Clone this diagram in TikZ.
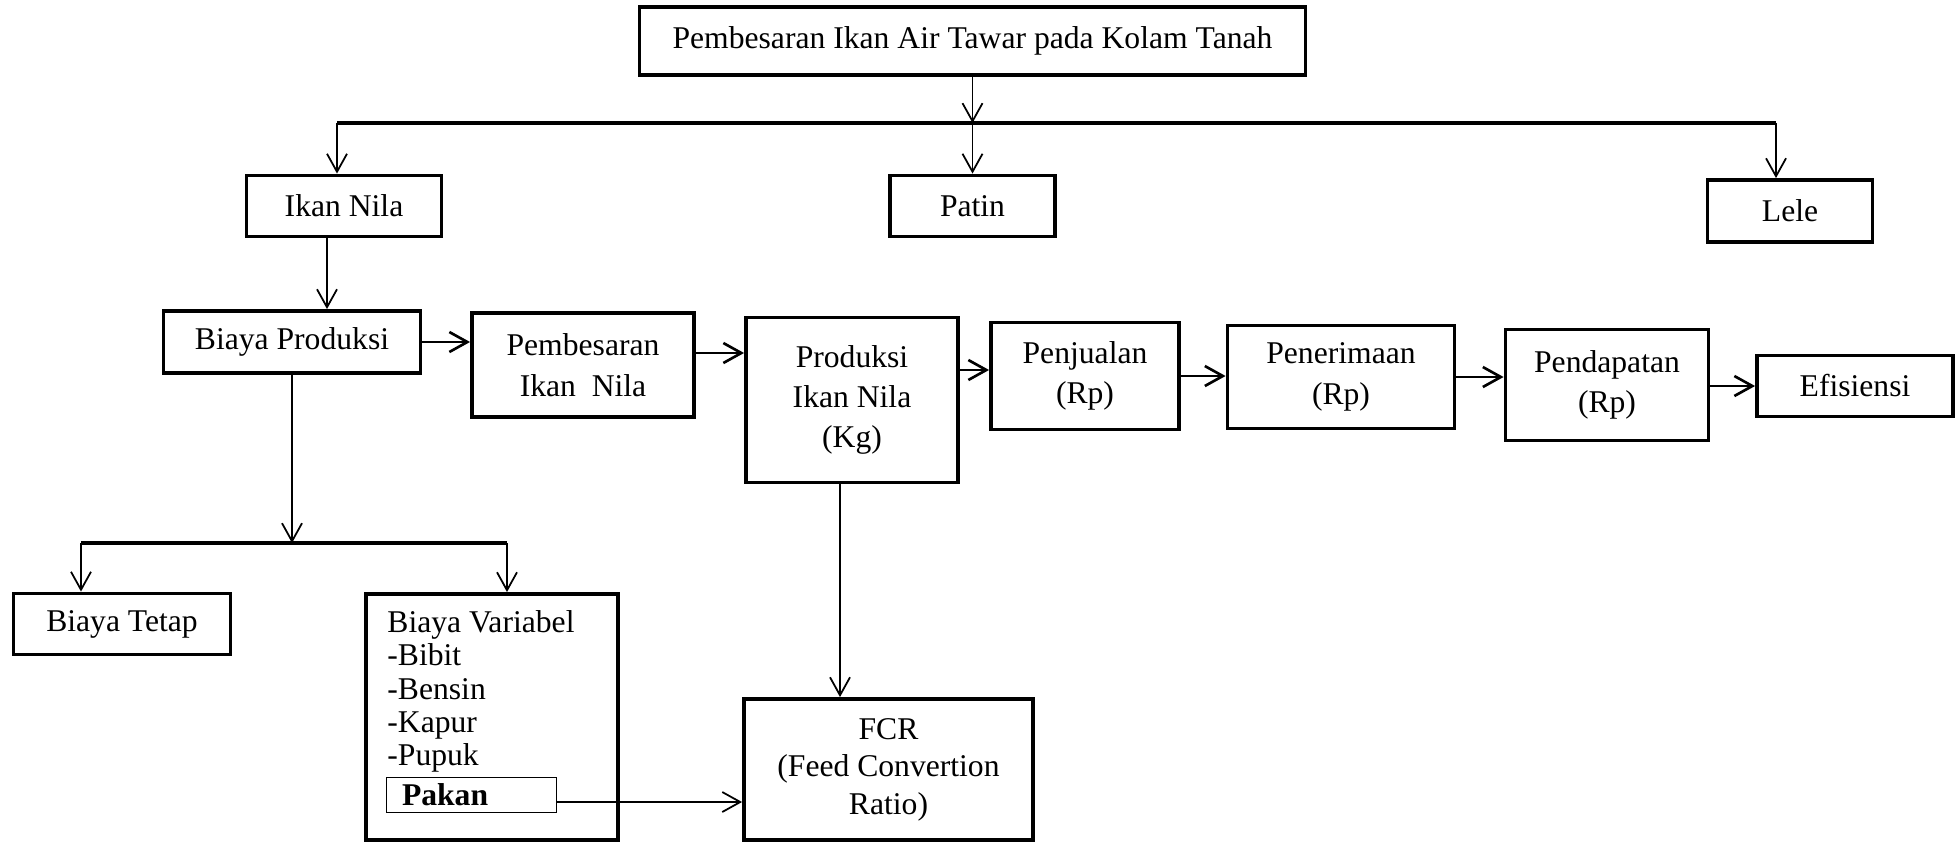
\documentclass[tikz,border=0pt]{standalone}
\usepackage{fontspec}
\setmainfont{Liberation Serif}
\usetikzlibrary{arrows.meta}

\begin{document}
\begin{tikzpicture}[
	font=\fontsize{18}{23}\selectfont,
	box/.style={draw, line width=2.2pt, align=center, inner sep=0pt},
	arr/.style={-{Straight Barb[length=0.36cm,width=0.4cm]}, line width=1pt},
	rowarr/.style={arr, line width=1.5pt},
	bar/.style={line width=1.8pt}
	]
	
	\useasboundingbox (0,0) rectangle (39.18,-16.88);
	
	% top box
	\node[box, minimum width=13.32cm, minimum height=1.36cm] (top) at (19.45,-0.82) {Pembesaran Ikan Air Tawar pada Kolam Tanah};
	
	% fish types
	\coordinate (barl) at (6.74,-2.46);
	\coordinate (barr) at (35.52,-2.46);
	\node[box, minimum width=3.9cm, minimum height=1.22cm] (nila) at (6.88,-4.12) {Ikan Nila};
	\node[box, minimum width=3.3cm, minimum height=1.22cm] (patin) at (19.45,-4.12) {Patin};
	\node[box, minimum width=3.3cm, minimum height=1.24cm] (lele) at (35.8,-4.22) {Lele};
	
	\draw[arr] (top.south) -- (top.south |- barl);
	\draw[bar] (barl) -- (barr);
	\draw[arr] (barl) -- (barl |- nila.north);
	\draw[arr] (patin.north |- barl) -- (patin.north);
	\draw[arr] (barr) -- (barr |- lele.north);
	
	% main row
	\node[box, minimum width=5.14cm, minimum height=1.24cm] (bprod) at (5.84,-6.84) {Biaya Produksi};
	\node[box, minimum width=4.44cm, minimum height=2.08cm] (pemb) at (11.66,-7.3) {Pembesaran\\Ikan~~Nila};
	\node[box, minimum width=4.24cm, minimum height=3.3cm] (prod) at (17.04,-8.0) {Produksi\\Ikan Nila\\(Kg)};
	\node[box, minimum width=3.76cm, minimum height=2.14cm] (jual) at (21.7,-7.52) {Penjualan\\(Rp)};
	\node[box, minimum width=4.54cm, minimum height=2.06cm] (terima) at (26.82,-7.54) {Penerimaan\\(Rp)};
	\node[box, minimum width=4.06cm, minimum height=2.22cm] (dapat) at (32.14,-7.7) {Pendapatan\\(Rp)};
	\node[box, minimum width=3.92cm, minimum height=1.22cm] (efis) at (37.1,-7.72) {Efisiensi};
	
	\draw[arr] ([xshift=-0.34cm]nila.south) -- ([xshift=-0.34cm]nila.south |- bprod.north);
	\draw[rowarr] (bprod.east) -- (bprod.east -| pemb.west);
	\draw[rowarr] ([yshift=0.24cm]pemb.east) -- ([yshift=0.24cm]pemb.east -| prod.west);
	\draw[rowarr] ([yshift=0.6cm]prod.east) -- ([yshift=0.6cm]prod.east -| jual.west);
	\draw[rowarr] (jual.east) -- (jual.east -| terima.west);
	\draw[rowarr] (terima.east) -- (terima.east -| dapat.west);
	\draw[rowarr] (efis.west -| dapat.east) -- (efis.west);
	
	% costs
	\coordinate (cbarl) at (1.62,-10.86);
	\coordinate (cbarr) at (10.14,-10.86);
	\node[box, minimum width=4.34cm, minimum height=1.22cm] (tetap) at (2.44,-12.48) {Biaya Tetap};
	\node[box, minimum width=5.04cm, minimum height=4.92cm] (bvar) at (9.84,-14.34) {};
	\node[anchor=north west, align=left, inner sep=0pt, font=\fontsize{18}{19}\selectfont] (bvarlist) at ([xshift=0.46cm,yshift=-0.36cm]bvar.north west) {Biaya Variabel\\-Bibit\\-Bensin\\-Kapur\\-Pupuk};
	\node[draw, line width=0.5pt, inner xsep=0.32cm, inner ysep=0pt, text width=2.76cm, minimum height=0.7cm, align=left] (pakan) at (9.42,-15.9) {\textbf{Pakan}};
	
	\draw[arr] (bprod.south) -- (bprod.south |- cbarl);
	\draw[bar] (cbarl) -- (cbarr);
	\draw[arr] (cbarl) -- (cbarl |- tetap.north);
	\draw[arr] (cbarr) -- (cbarr |- bvar.north);
	
	% FCR
	\node[box, minimum width=5.78cm, minimum height=2.82cm, font=\fontsize{18}{21.3}\selectfont] (fcr) at (17.77,-15.39) {FCR\\(Feed Convertion\\Ratio)};
	
	\draw[arr] ([xshift=-0.24cm]prod.south) -- ([xshift=-0.24cm]prod.south |- fcr.north);
	\draw[arr] ([yshift=-0.14cm]pakan.east) -- ([yshift=-0.14cm]pakan.east -| fcr.west);
	
\end{tikzpicture}
\end{document}
